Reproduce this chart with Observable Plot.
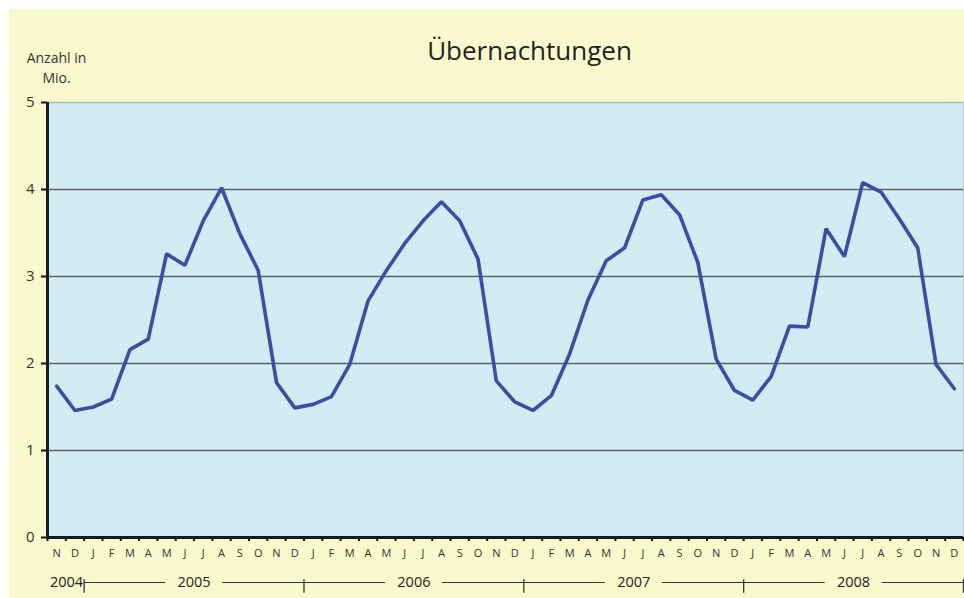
<!DOCTYPE html>
<html><head><meta charset="utf-8">
<script src="https://cdn.jsdelivr.net/npm/d3@7"></script>
<script src="https://cdn.jsdelivr.net/npm/@observablehq/plot@0.6"></script>
<style>
html,body{margin:0;padding:0;background:#fff;}
#wrap{position:relative;width:964px;height:598px;overflow:hidden;}
#bg{position:absolute;left:9px;top:9px;width:955px;height:589px;background:#faf8cd;}
#chart{position:absolute;left:0;top:0;}
</style></head><body>
<div id="wrap"><div id="bg"></div><div id="chart"></div></div>
<script>
const title = "Übernachtungen";
const yLabel = "Anzahl in\nMio.";
const months = ["N","D",
  "J","F","M","A","M","J","J","A","S","O","N","D",
  "J","F","M","A","M","J","J","A","S","O","N","D",
  "J","F","M","A","M","J","J","A","S","O","N","D",
  "J","F","M","A","M","J","J","A","S","O","N","D"];
const years = ["2004","2005","2006","2007","2008"];
const values = [1.74,1.46,1.50,1.59,2.16,2.28,3.26,3.13,3.64,4.02,3.49,3.07,
  1.78,1.49,1.53,1.62,1.99,2.72,3.07,3.38,3.64,3.86,3.64,3.20,
  1.80,1.56,1.46,1.63,2.11,2.73,3.18,3.33,3.88,3.94,3.71,3.16,
  2.05,1.69,1.58,1.85,2.43,2.42,3.55,3.23,4.08,3.97,3.66,3.33,
  1.99,1.71];
const yTicks = [0,1,2,3,4,5];

const data = values.map((v, i) => ({i, m: months[i], v}));
const n = months.length;
// year boundaries: first full year starts after the two 2004 months
const firstJan = months.indexOf("J");
const seps = years.map((y, k) => firstJan + 12 * k);
const fullYears = years.slice(1).map((y, k) => ({y, start: seps[k], end: seps[k + 1], c: seps[k] + 6}));
const gap = 1.55;
const segs = fullYears.flatMap(d => [{x1: d.start, x2: d.c - gap}, {x1: d.c + gap, x2: d.end}]);

const chart = Plot.plot({
  width: 964, height: 598,
  marginLeft: 47, marginRight: 1, marginTop: 102, marginBottom: 61,
  style: {background: "transparent", fontFamily: "'Open Sans', 'Noto Sans', sans-serif", color: "#222"},
  x: {domain: [0, n]},
  y: {domain: [0, 5]},
  marks: [
    Plot.frame({fill: "#d3ecf3", stroke: null}),
    Plot.ruleY([1,2,3,4], {stroke: "#5c6264", strokeWidth: 1.3}),
    Plot.ruleY([5], {stroke: "#a9b9c0", strokeWidth: 1.5}),
    Plot.ruleX([n], {stroke: "#bccbd1", strokeWidth: 1}),
    Plot.line(data, {x: d => d.i + 0.5, y: "v", stroke: "#3a4ea3", strokeWidth: 3.6, strokeLinejoin: "miter"}),
    Plot.axisY({ticks: yTicks, tickFormat: "d", tickSize: 6, tickPadding: 7, fontSize: 15, label: null, stroke: "#111", strokeWidth: 2, fill: "#333"}),
    Plot.axisX({ticks: d3.range(0, n + 1), tickFormat: () => "", tickSize: 4, label: null, stroke: "#111", strokeWidth: 2}),
    Plot.ruleX([0], {stroke: "#1a1a1a", strokeWidth: 3}),
    Plot.ruleY([0], {stroke: "#1a1a1a", strokeWidth: 3}),
    Plot.text(data, {x: d => d.i + 0.5, y: 0, text: "m", dy: 16, fontSize: 11, fill: "#333"}),
    Plot.text([years[0]], {x: seps[0], y: 0, text: d => d, dy: 45, dx: -1, textAnchor: "end", fontSize: 14.5, fill: "#222"}),
    Plot.text(fullYears, {x: "c", y: 0, text: "y", dy: 45, fontSize: 14.5, fill: "#222"}),
    Plot.ruleY(segs, {y: 0, x1: "x1", x2: "x2", dy: 45, stroke: "#333", strokeWidth: 1}),
    Plot.ruleX(seps, {x: d => d, y1: -0.485, y2: -0.64, stroke: "#333", strokeWidth: 1.3}),
    Plot.text([title], {frameAnchor: "top", lineAnchor: "middle", text: d => d, dx: 24, dy: -51, fontSize: 26, fill: "#222"}),
    Plot.text([yLabel], {frameAnchor: "top-left", lineAnchor: "middle", text: d => d, dx: 9, dy: -36, fontSize: 14, lineHeight: 1.43, textAnchor: "middle", fill: "#333"})
  ]
});
document.getElementById("chart").appendChild(chart);
</script>
</body></html>
